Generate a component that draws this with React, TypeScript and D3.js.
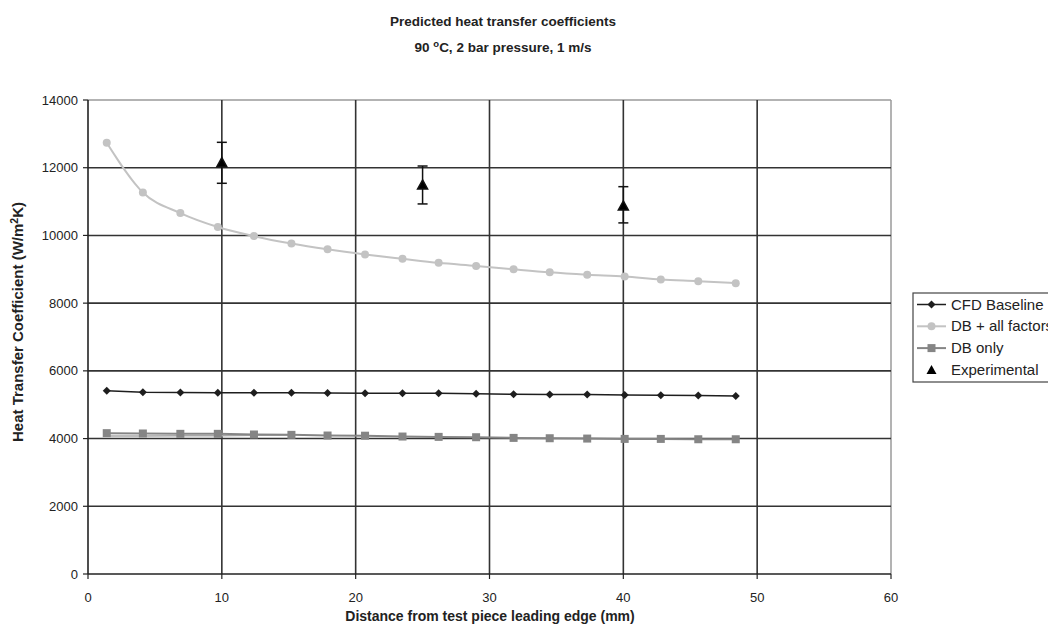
import * as d3 from "d3";

// distance from leading edge (mm)
const xPositions = [1.4, 4.1, 6.9, 9.7, 12.4, 15.2, 17.9, 20.7, 23.5, 26.2, 29.0, 31.8, 34.5, 37.3, 40.1, 42.8, 45.6, 48.4];

const cfdBaseline = [5410, 5370, 5360, 5355, 5355, 5350, 5345, 5340, 5335, 5335, 5325, 5310, 5300, 5300, 5290, 5280, 5275, 5260];
const dbAllFactors = [12740, 11270, 10660, 10250, 9980, 9760, 9590, 9440, 9310, 9190, 9100, 9000, 8910, 8840, 8785, 8700, 8650, 8590];
const dbOnly = [4160, 4150, 4140, 4140, 4120, 4110, 4090, 4085, 4060, 4050, 4040, 4020, 4010, 4000, 3990, 3990, 3980, 3980];
// faint trace under the DB only line near the leading edge
const dbTraceX = [1.4, 4.1, 6.9, 9.7, 12.4, 15.2];
const dbTrace = [4075, 4075, 4080, 4085, 4095, 4105];

const expX = [10, 25, 40];
const expValues = [12150, 11490, 10870];
const expLow = [11540, 10930, 10370];
const expHigh = [12750, 12050, 11440];

const xTicks = [0, 10, 20, 30, 40, 50, 60];
const yTicks = [0, 2000, 4000, 6000, 8000, 10000, 12000, 14000];

const legendItems = ["CFD Baseline", "DB + all factors", "DB only", "Experimental"];

const W = 1048;
const H = 628;
const font = "'Liberation Sans', Arial, sans-serif";

const x = d3.scaleLinear().domain([0, 60]).range([88, 891]);
const y = d3.scaleLinear().domain([0, 14000]).range([574, 100]);

const line = d3
  .line<[number, number]>()
  .x((d) => x(d[0]))
  .y((d) => y(d[1]));
const smooth = d3
  .line<[number, number]>()
  .x((d) => x(d[0]))
  .y((d) => y(d[1]))
  .curve(d3.curveMonotoneX);

const zip = (xs: number[], ys: number[]) => xs.map((v, i) => [v, ys[i]] as [number, number]);

const diamond = (cx: number, cy: number, r = 4) =>
  `M${cx},${cy - r}L${cx + r},${cy}L${cx},${cy + r}L${cx - r},${cy}Z`;
const triangle = (cx: number, cy: number, r = 5) =>
  `M${cx},${cy - r}L${cx + r},${cy + r * 0.8}L${cx - r},${cy + r * 0.8}Z`;

const CFD_COL = "#1e1e1e";
const ALL_COL = "#c3c3c3";
const DB_COL = "#858585";

function Marker({ kind, cx, cy }: { kind: number; cx: number; cy: number }) {
  if (kind === 0) return <path d={diamond(cx, cy)} fill={CFD_COL} />;
  if (kind === 1) return <circle cx={cx} cy={cy} r={4} fill={ALL_COL} />;
  if (kind === 2) return <rect x={cx - 4} y={cy - 4} width={8} height={8} fill={DB_COL} />;
  return <path d={triangle(cx, cy)} fill="#000" />;
}

export default function App() {
  const legendLineCol = [CFD_COL, ALL_COL, DB_COL, null];
  return (
    <svg width={W} height={H} style={{ position: "absolute", left: 0, top: 0, background: "#fff" }}>
      <rect width={W} height={H} fill="#fff" />
      {/* title */}
      <text x={503} y={26} textAnchor="middle" fontFamily={font} fontWeight="bold" fontSize={13.5} fill="#222">
        Predicted heat transfer coefficients
      </text>
      <text x={503} y={52} textAnchor="middle" fontFamily={font} fontWeight="bold" fontSize={13.5} fill="#222">
        90 <tspan fontSize={9.5} dy={-5}>o</tspan>
        <tspan dy={5}>C, 2 bar pressure, 1 m/s</tspan>
      </text>

      {/* border top / right */}
      <line x1={x(0)} x2={x(60)} y1={y(14000)} y2={y(14000)} stroke="#9a9a9a" strokeWidth={1.5} />
      <line x1={x(60)} x2={x(60)} y1={y(14000)} y2={y(0)} stroke="#9a9a9a" strokeWidth={1.5} />

      {/* grid */}
      {yTicks
        .filter((t) => t > 0 && t < 14000)
        .map((t) => (
          <line key={"gy" + t} x1={x(0)} x2={x(60)} y1={y(t)} y2={y(t)} stroke="#333" strokeWidth={1.6} />
        ))}
      {xTicks
        .filter((t) => t > 0 && t < 60)
        .map((t) => (
          <line key={"gx" + t} x1={x(t)} x2={x(t)} y1={y(14000)} y2={y(0)} stroke="#333" strokeWidth={1.6} />
        ))}

      {/* axes */}
      <line x1={x(0)} x2={x(0)} y1={y(14000)} y2={y(0)} stroke="#222" strokeWidth={1.6} />
      <line x1={x(0)} x2={x(60)} y1={y(0)} y2={y(0)} stroke="#222" strokeWidth={1.6} />
      {yTicks.map((t) => (
        <g key={"yt" + t}>
          <line x1={x(0) - 5} x2={x(0)} y1={y(t)} y2={y(t)} stroke="#222" strokeWidth={1.2} />
          <text x={x(0) - 10} y={y(t) + 4.5} textAnchor="end" fontFamily={font} fontSize={13} fill="#222">
            {t}
          </text>
        </g>
      ))}
      {xTicks.map((t) => (
        <g key={"xt" + t}>
          <line x1={x(t)} x2={x(t)} y1={y(0)} y2={y(0) + 5} stroke="#222" strokeWidth={1.2} />
          <text x={x(t)} y={y(0) + 28} textAnchor="middle" fontFamily={font} fontSize={13} fill="#222">
            {t}
          </text>
        </g>
      ))}

      <text x={490} y={621} textAnchor="middle" fontFamily={font} fontWeight="bold" fontSize={14} fill="#222">
        Distance from test piece leading edge (mm)
      </text>
      <text
        transform={`translate(23,322) rotate(-90)`}
        textAnchor="middle"
        fontFamily={font}
        fontWeight="bold"
        fontSize={15}
        fill="#222"
      >
        Heat Transfer Coefficient (W/m<tspan fontSize={10.5} dy={-5}>2</tspan>
        <tspan dy={5}>K)</tspan>
      </text>

      {/* series */}
      <path d={line(zip(dbTraceX, dbTrace)) || ""} fill="none" stroke="#a8a8a8" strokeWidth={1.5} />
      <path d={line(zip(xPositions, dbOnly)) || ""} fill="none" stroke={DB_COL} strokeWidth={2} />
      {xPositions.map((v, i) => (
        <Marker key={"db" + i} kind={2} cx={x(v)} cy={y(dbOnly[i])} />
      ))}
      <path d={smooth(zip(xPositions, dbAllFactors)) || ""} fill="none" stroke={ALL_COL} strokeWidth={2} />
      {xPositions.map((v, i) => (
        <Marker key={"all" + i} kind={1} cx={x(v)} cy={y(dbAllFactors[i])} />
      ))}
      <path d={line(zip(xPositions, cfdBaseline)) || ""} fill="none" stroke={CFD_COL} strokeWidth={1.5} />
      {xPositions.map((v, i) => (
        <Marker key={"cfd" + i} kind={0} cx={x(v)} cy={y(cfdBaseline[i])} />
      ))}

      {/* experimental with error bars */}
      {expX.map((v, i) => (
        <g key={"ex" + i} stroke="#111" strokeWidth={1.5}>
          <line x1={x(v)} x2={x(v)} y1={y(expHigh[i])} y2={y(expLow[i])} />
          <line x1={x(v) - 5} x2={x(v) + 5} y1={y(expHigh[i])} y2={y(expHigh[i])} />
          <line x1={x(v) - 5} x2={x(v) + 5} y1={y(expLow[i])} y2={y(expLow[i])} />
          <Marker kind={3} cx={x(v)} cy={y(expValues[i])} />
        </g>
      ))}

      {/* legend (runs off the right edge, as in the source) */}
      <rect x={913} y={293} width={160} height={89} fill="#fff" stroke="#444" strokeWidth={1.2} />
      {legendItems.map((name, i) => {
        const ly = 304.5 + i * 21.8;
        const col = legendLineCol[i];
        return (
          <g key={"lg" + i}>
            {col && <line x1={917} x2={946} y1={ly} y2={ly} stroke={col} strokeWidth={i === 0 ? 1.5 : 2} />}
            <Marker kind={i} cx={931.5} cy={ly} />
            <text x={951} y={ly + 5} fontFamily={font} fontSize={15} fill="#222">
              {name}
            </text>
          </g>
        );
      })}
    </svg>
  );
}
